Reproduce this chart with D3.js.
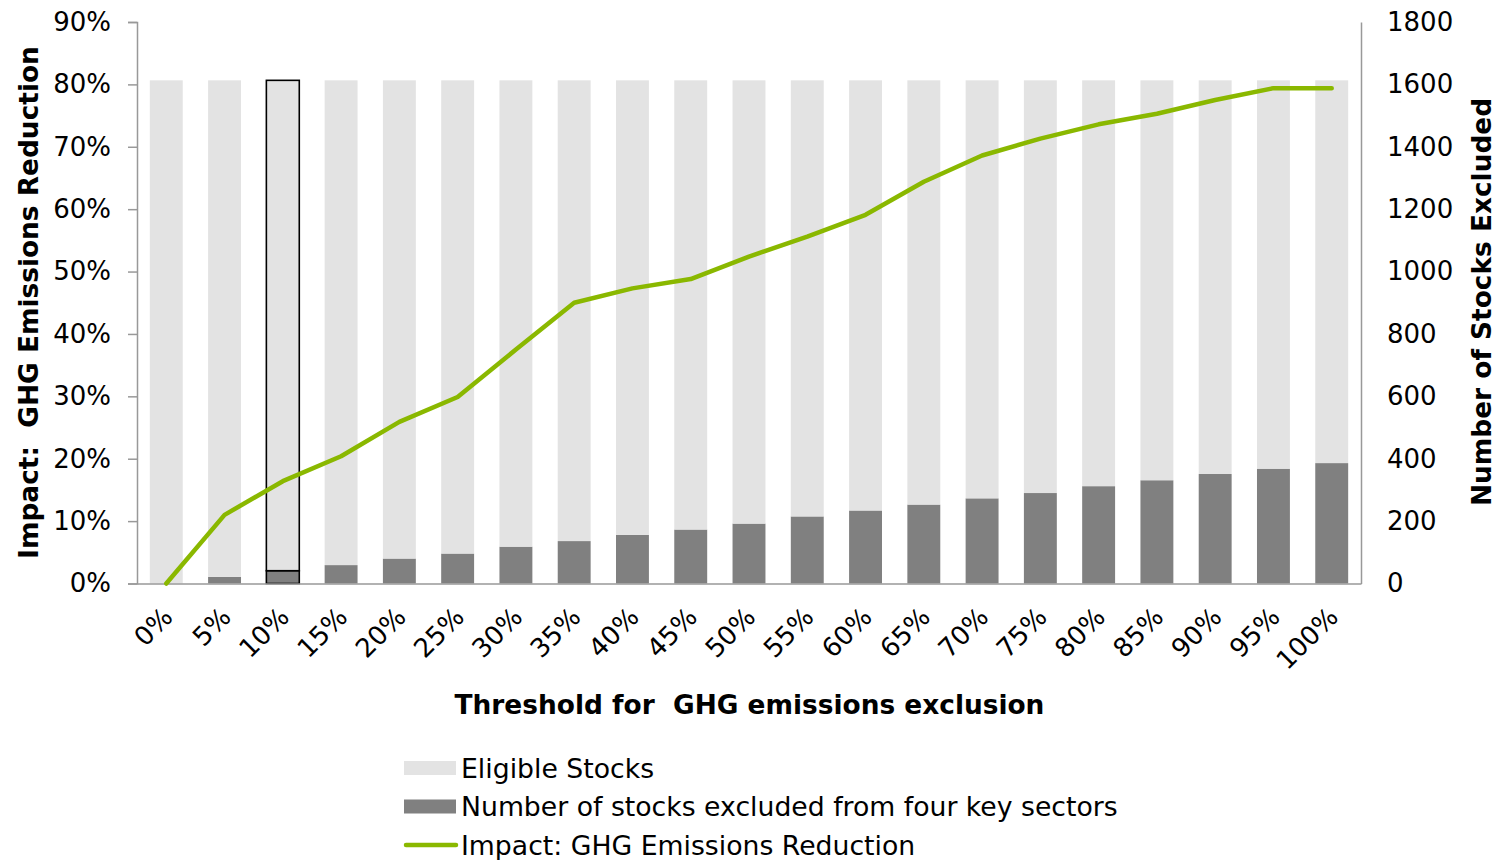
<!DOCTYPE html>
<html>
<head>
<meta charset="utf-8">
<script src="https://cdn.jsdelivr.net/npm/d3@7"></script>
<style>
  html, body { margin: 0; padding: 0; background: #fff; }
  svg { display: block; font-family: "DejaVu Sans", Verdana, sans-serif; }
  text { white-space: pre; }
</style>
</head>
<body>
<svg id="chart" width="1496" height="860"></svg>
<script>
// Threshold categories along the x axis
const thresholds = ["0%", "5%", "10%", "15%", "20%", "25%", "30%", "35%", "40%", "45%", "50%",
                    "55%", "60%", "65%", "70%", "75%", "80%", "85%", "90%", "95%", "100%"];

// Stocks excluded from the four key sectors (right axis)
const excludedStocks = [0, 21, 41, 59, 80, 96, 118, 136, 156, 173, 192, 215, 234, 253, 273, 290, 312, 331, 351, 368, 386];

// Universe size; eligible = universe - excluded
const universeSize = 1613;
const eligibleStocks = excludedStocks.map(v => universeSize - v);

// GHG emissions reduction (left axis)
const ghgReduction = [0.000, 0.110, 0.164, 0.204, 0.259, 0.299, 0.375, 0.450, 0.473, 0.488, 0.524,
                      0.556, 0.591, 0.644, 0.686, 0.713, 0.736, 0.753, 0.775, 0.794, 0.794];

const leftTicks = [0, 0.1, 0.2, 0.3, 0.4, 0.5, 0.6, 0.7, 0.8, 0.9];
const rightTicks = [0, 200, 400, 600, 800, 1000, 1200, 1400, 1600, 1800];

const highlighted = "10%";

const COLORS = { eligible: "#e3e3e3", excluded: "#808080", line: "#8ab800", axis: "#999999" };
const FONT = "DejaVu Sans";

const svg = d3.select("#chart");
const plot = { left: 137, right: 1361, top: 22, bottom: 583.5 };

const x = d3.scaleBand().domain(thresholds).range([plot.left, plot.right])
  .paddingInner(0.435).paddingOuter(0.22);
const yLeft = d3.scaleLinear().domain([0, 0.9]).range([plot.bottom, plot.top]);
const yRight = d3.scaleLinear().domain([0, 1800]).range([plot.bottom, plot.top]);

const rows = thresholds.map((t, i) => ({ t, excluded: excludedStocks[i], eligible: eligibleStocks[i], ghg: ghgReduction[i] }));
const stack = d3.stack().keys(["excluded", "eligible"])(rows);

// Stacked bars
const layers = svg.append("g").selectAll("g").data(stack).join("g")
  .attr("fill", d => d.key === "excluded" ? COLORS.excluded : COLORS.eligible);
layers.selectAll("rect").data(d => d).join("rect")
  .attr("x", d => x(d.data.t))
  .attr("width", x.bandwidth())
  .attr("y", d => yRight(d[1]))
  .attr("height", d => yRight(d[0]) - yRight(d[1]))
  .attr("stroke", d => d.data.t === highlighted ? "#000" : "none")
  .attr("stroke-width", 1.6);

// Axes
const leftAxis = d3.axisLeft(yLeft).tickValues(leftTicks).tickFormat(d3.format(".0%")).tickSize(9).tickPadding(17);
const gL = svg.append("g").attr("transform", `translate(${plot.left},0)`).call(leftAxis);
gL.select(".domain").attr("stroke", COLORS.axis).attr("stroke-width", 1.5);
gL.selectAll(".tick line").attr("stroke", COLORS.axis).attr("stroke-width", 1.5);
gL.selectAll(".tick text").attr("font-size", 26).attr("fill", "#000").attr("font-family", FONT);

const rightAxis = d3.axisRight(yRight).tickValues(rightTicks).tickFormat(d3.format("d")).tickSize(0).tickPadding(26);
const gR = svg.append("g").attr("transform", `translate(${plot.right},0)`).call(rightAxis);
gR.select(".domain").attr("stroke", COLORS.axis).attr("stroke-width", 1.5);
gR.selectAll(".tick text").attr("font-size", 26).attr("fill", "#000").attr("font-family", FONT);

const bottomAxis = d3.axisBottom(x).tickSize(0).tickPadding(0);
const gB = svg.append("g").attr("transform", `translate(0,${plot.bottom})`).call(bottomAxis);
gB.select(".domain").attr("stroke", COLORS.axis).attr("stroke-width", 1.5);
gB.selectAll(".tick text")
  .attr("font-size", 26).attr("fill", "#000").attr("font-family", FONT)
  .attr("text-anchor", "end").attr("dy", 0)
  .attr("transform", "translate(8,35) rotate(-45)");

// GHG reduction line
const line = d3.line().x(d => x(d.t) + x.bandwidth() / 2).y(d => yLeft(d.ghg));
svg.append("path").datum(rows)
  .attr("fill", "none").attr("stroke", COLORS.line).attr("stroke-width", 4.5)
  .attr("stroke-linejoin", "round").attr("stroke-linecap", "round")
  .attr("d", line);

// Axis titles
svg.append("text").attr("transform", "translate(38,302.5) rotate(-90)")
  .attr("text-anchor", "middle").attr("font-size", 26.4).attr("font-weight", "bold")
  .text("Impact:  GHG Emissions Reduction");
svg.append("text").attr("transform", "translate(1491,302) rotate(-90)")
  .attr("text-anchor", "middle").attr("font-size", 26.4).attr("font-weight", "bold")
  .text("Number of Stocks Excluded");
svg.append("text").attr("x", 749.5).attr("y", 714)
  .attr("text-anchor", "middle").attr("font-size", 26.4).attr("font-weight", "bold")
  .text("Threshold for  GHG emissions exclusion");

// Legend
const legendItems = [
  { label: "Eligible Stocks", type: "rect", color: COLORS.eligible },
  { label: "Number of stocks excluded from four key sectors", type: "rect", color: COLORS.excluded },
  { label: "Impact: GHG Emissions Reduction", type: "line", color: COLORS.line }
];
const legend = svg.append("g").attr("transform", "translate(404,768)");
const li = legend.selectAll("g").data(legendItems).join("g")
  .attr("transform", (d, i) => `translate(0,${i * 38.5})`);
li.filter(d => d.type === "rect").append("rect")
  .attr("x", 0).attr("y", -7).attr("width", 52).attr("height", 14).attr("fill", d => d.color);
li.filter(d => d.type === "line").append("line")
  .attr("x1", 2).attr("x2", 52).attr("y1", 0).attr("y2", 0)
  .attr("stroke", d => d.color).attr("stroke-width", 4.5).attr("stroke-linecap", "round");
li.append("text").attr("x", 57).attr("y", 0).attr("dy", "0.36em")
  .attr("font-size", 26.7).attr("fill", "#000").attr("font-family", FONT)
  .text(d => d.label);
</script>
</body>
</html>
